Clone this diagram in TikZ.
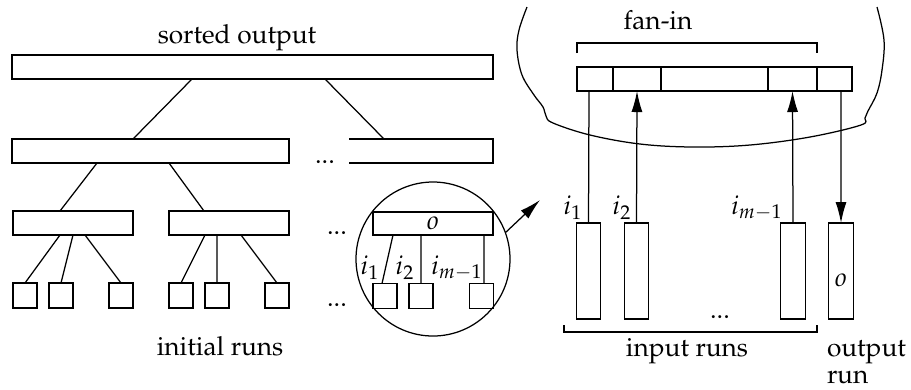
\documentclass[tikz,border=0pt]{standalone}
\usepackage[T1]{fontenc}
\usepackage{mathpazo}
\usetikzlibrary{arrows.meta,calc}
\begin{document}
\begin{tikzpicture}[x=0.4pt,y=-0.4pt,
  every node/.style={font=\fontsize{10.5}{12.6}\selectfont},
  ln/.style={line width=0.5pt},
  bx/.style={draw, line width=0.5pt, inner sep=0pt, outer sep=0pt, minimum height=9.6pt},
  leaf/.style={draw, line width=0.5pt, inner sep=0pt, outer sep=0pt, minimum width=9.6pt, minimum height=10pt},
  runbox/.style={draw, line width=0.5pt, inner sep=0pt, outer sep=0pt, minimum width=9.8pt, minimum height=38.4pt},
  arr/.style={line width=0.5pt, -{Latex[length=8.4pt,width=4.4pt]}},
  lbl/.style={inner sep=0pt, outer sep=0pt}]
\useasboundingbox (0,0) rectangle (911,389);

% ---------- left tree ----------
\node[lbl, anchor=base] (sorted) at (237,43) {sorted output};
\node[bx, minimum width=192.4pt] (top) at (252.5,67) {};
\node[bx, minimum width=110.8pt] (l2) at (150.5,151) {};
\node[lbl, minimum width=57.6pt, minimum height=9.6pt] (r2) at (421,151) {};
\draw[ln] (r2.north west) -- (r2.north east) -- (r2.south east) -- (r2.south west);
\node[lbl, anchor=base] (dots1) at (325,163) {...};

\node[bx, minimum width=48pt] (a) at (73,223) {};
\node[bx, minimum width=48pt] (b) at (229,223) {};
\node[lbl, anchor=base] (dots2) at (337,234) {...};

\node[leaf] (a1) at (25,295.5) {};
\node[leaf] (a2) at (61,295.5) {};
\node[leaf] (a3) at (121,295.5) {};
\node[leaf] (b1) at (181,295.5) {};
\node[leaf] (b2) at (217,295.5) {};
\node[leaf] (b3) at (277,295.5) {};
\node[lbl, anchor=base] (dots3) at (337,306) {...};
\node[lbl, anchor=base] (initial) at (220,355) {initial runs};

\draw[ln] ([xshift=-24.2pt]top.south) -- ([xshift=-7pt]l2.north);
\draw[ln] ([xshift=29pt]top.south) -- ([xshift=-14.8pt]r2.north);
\draw[ln] ([xshift=-21.4pt]l2.south) -- ([xshift=-5.2pt]a.north);
\draw[ln] ([xshift=7.4pt]l2.south) -- ([xshift=-10pt]b.north);
\draw[ln] ([xshift=-5.2pt]a.south) -- (a1.north);
\draw[ln] (a.south) -- (a2.north);
\draw[ln] ([xshift=4.8pt]a.south) -- (a3.north);
\draw[ln] ([xshift=-9.6pt]b.south) -- (b1.north);
\draw[ln] ([xshift=-4.8pt]b.south) -- (b2.north);
\draw[ln] ([xshift=4.8pt]b.south) -- (b3.north);

% ---------- magnifier circle ----------
\node[draw, line width=0.5pt, circle, minimum size=61.6pt, inner sep=0pt, outer sep=0pt] (circ) at (433,259) {};
\node[bx, minimum width=48pt, minimum height=9.2pt] (ob) at (433,223.5) {$o$};
\node[leaf] (c1) at (385,296) {};
\node[leaf] (c2) at (421,296) {};
\node[leaf] (c3) at (481.5,296) {};
\draw[ln] ([xshift=-16pt]ob.south) -- ([xshift=-1.2pt]c1.north);
\draw[ln] ([xshift=-4.8pt]ob.south) -- (c2.north);
\draw[ln] ([xshift=20.4pt]ob.south) -- ([xshift=1pt]c3.north);
\node[lbl] (ci1) at (370,268) {$i_1$};
\node[lbl] (ci2) at (405,268) {$i_2$};
\node[lbl] (cim) at (457,268) {$i_{m-1}$};
\coordinate (zoomend) at (540,200);
\draw[arr] (circ.20) -- (zoomend);

% ---------- right part: memory ----------
\draw[ln] plot[smooth, tension=0.6] coordinates {(527,7) (519,30) (517,50) (522,75) (534,95) (543,107) (546,116) (553,123) (590,135) (640,144) (693,147) (750,145) (810,137) (861,125) (865,118) (868,111) (877,93) (882,70) (884,40) (877,7)};

\node[lbl, anchor=base] (fanin) at (658,29) {fan-in};
\coordinate (fb1) at (577,53);
\coordinate (fb2) at (577,43);
\coordinate (fb3) at (817,43);
\coordinate (fb4) at (817,53);
\draw[ln] (fb1) -- (fb2) -- (fb3) -- (fb4);

\node[bx, minimum width=14.4pt] (m0) at (595,79) {};
\node[bx, minimum width=19.2pt] (m1) at (637,79) {};
\node[bx, minimum width=42.8pt] (m2) at (714.5,79) {};
\node[bx, minimum width=19.6pt] (m3) at (792.5,79) {};
\node[bx, minimum width=14pt] (m4) at (834.5,79) {};

\node[runbox] (r1) at (588.5,271) {};
\node[runbox] (rr2) at (636.5,271) {};
\node[runbox] (r3) at (793,271) {};
\node[runbox] (ro) at (841,271) {};
\node[lbl] (olab) at (841,280) {$o$};

\draw[ln] ([xshift=-2.4pt]m0.south) -- (r1.north);
\draw[arr] (rr2.north) -- (m1.south);
\draw[arr] (r3.north) -- (m3.south);
\draw[arr] ([xshift=2.6pt]m4.south) -- (ro.north);

\node[lbl] (ri1) at (573,208) {$i_1$};
\node[lbl] (ri2) at (622,208) {$i_2$};
\node[lbl] (rim) at (757,208) {$i_{m-1}$};
\node[lbl, anchor=base] (dots4) at (720,318) {...};

\coordinate (ib1) at (564,325);
\coordinate (ib2) at (564,332);
\coordinate (ib3) at (817,332);
\coordinate (ib4) at (817,325);
\draw[ln] (ib1) -- (ib2) -- (ib3) -- (ib4);
\node[lbl, anchor=base] (inputruns) at (687,356) {input runs};
\node[lbl, anchor=base west] (outrun1) at (827,356) {output};
\node[lbl, anchor=base west] (outrun2) at (827,383) {run};
\end{tikzpicture}
\end{document}
